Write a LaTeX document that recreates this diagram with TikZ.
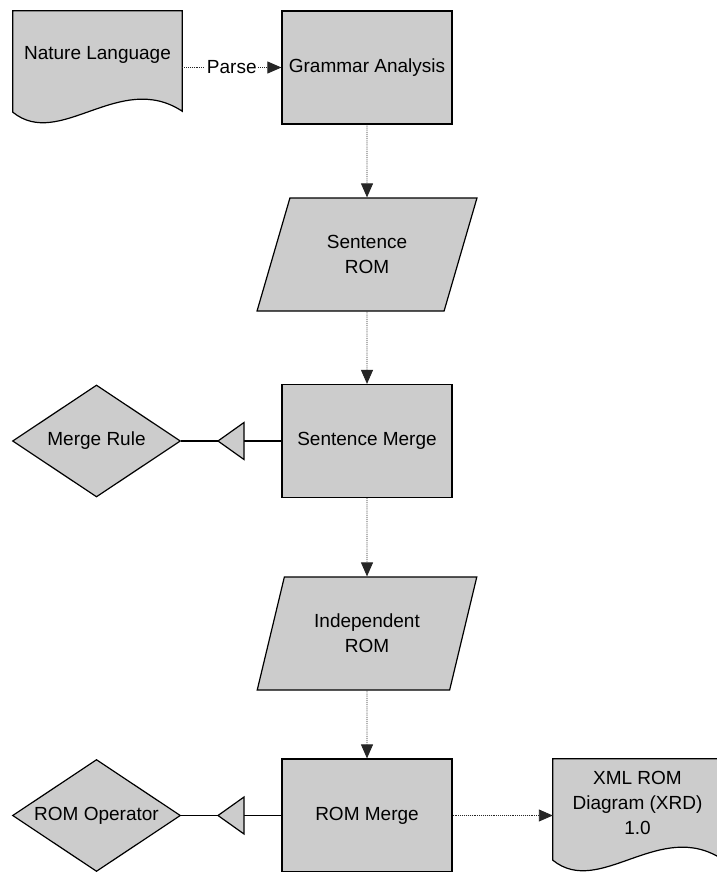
\documentclass[tikz,border=0pt]{standalone}
\usepackage{fontspec}
\setmainfont{Liberation Sans}
\usetikzlibrary{shapes.geometric,arrows.meta,calc,backgrounds}

\begin{document}
\begin{tikzpicture}[x=1pt,y=-1pt,
  every node/.style={font=\fontsize{19}{25}\selectfont, text=black},
  outline/.style={draw=black, line width=1.2pt, fill=black!20},
  procbox/.style={outline, rectangle, minimum width=170, minimum height=113, inner sep=0pt},
  databox/.style={outline, trapezium, trapezium left angle=66, trapezium right angle=114,
    trapezium stretches=true, minimum width=220, minimum height=113, inner sep=0pt, align=center},
  rulebox/.style={outline, diamond, aspect=1.5, minimum width=168, minimum height=112, inner sep=0pt},
  docbox/.style={rectangle, minimum width=169, minimum height=88, inner sep=0pt, align=center},
  flow/.style={densely dotted, line width=0.9pt, draw=black!85,
    -{Triangle[length=14pt, width=12pt, fill=black!85]}},
  link/.style={draw=black, line width=1.2pt},
]
\useasboundingbox (0,0) rectangle (716,872);
\clip (0,0) rectangle (716,872);

% process steps
\node[procbox] (ga) at (367,67.5) {Grammar Analysis};
\node[databox] (srom) at (367,254.5) {Sentence\\ROM};
\node[procbox] (sm) at (367,441) {Sentence Merge};
\node[databox] (irom) at (367,633.5) {Independent\\ROM};
\node[procbox] (rm) at (367,815.5) {ROM Merge};

% rules
\node[rulebox] (mr) at (96.5,441) {Merge Rule};
\node[rulebox] (ro) at (96.5,815.5) {ROM Operator};

% documents (outline drawn behind the text)
\node[docbox] (nl) at (97.5,55) {Nature Language};
\node[docbox] (xml) at (637.5,803) {XML ROM\\Diagram (XRD)\\1.0};

\begin{scope}[on background layer]
  \fill[white] (0,0) rectangle (716,872);
  \foreach \d in {nl,xml} {
    \draw[outline] (\d.north west) -- (\d.north east)
      -- ($(\d.south east)+(0,12)$)
      .. controls ($(\d.south west)+(107,-29)$) and ($(\d.south west)+(47,51)$)
      .. ($(\d.south west)+(0,13)$) -- cycle;
  }
\end{scope}

% main flow
\draw[flow] (nl.east |- ga.west) -- node[fill=white, inner sep=1.5pt] (parse) {Parse} (ga.west);
\draw[flow] (ga.south) -- (srom.north);
\draw[flow] (srom.south) -- (sm.north);
\draw[flow] (sm.south) -- (irom.north);
\draw[flow] (irom.south) -- (rm.north);
\draw[flow] (rm.east) -- (xml.west |- rm.east);

% rule links with triangle markers
\coordinate (mrtip) at (218,441);
\coordinate (mrbase) at (244,441);
\coordinate (rotip) at (218,815.5);
\coordinate (robase) at (244,815.5);
\draw[link] (mr.east) -- (mrtip);
\draw[link] (mrbase) -- (sm.west);
\draw[link] (ro.east) -- (rotip);
\draw[link] (robase) -- (rm.west);
\draw[outline] (mrtip) -- ($(mrbase)+(0,-18.5)$) -- ($(mrbase)+(0,18.5)$) -- cycle;
\draw[outline] (rotip) -- ($(robase)+(0,-18.5)$) -- ($(robase)+(0,18.5)$) -- cycle;
\end{tikzpicture}
\end{document}
